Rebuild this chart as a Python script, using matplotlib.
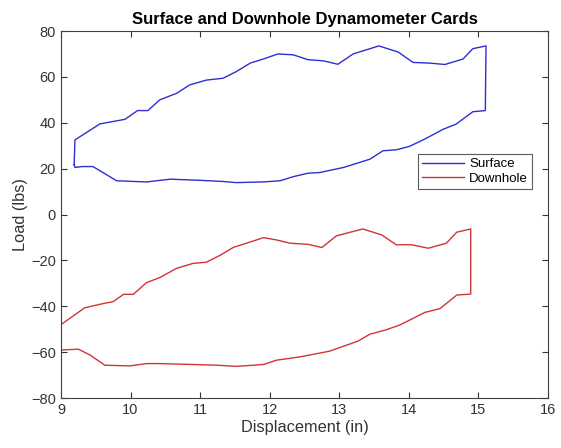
import matplotlib
matplotlib.use("Agg")
import matplotlib.pyplot as plt

# Surface card (closed loop, traced clockwise from lower-left)
surface_x = [9.19, 9.20, 9.56, 9.92, 10.10, 10.25, 10.42, 10.66, 10.85, 11.09, 11.33, 11.52,
             11.72, 11.91, 12.12, 12.34, 12.55, 12.77, 12.98, 13.20, 13.57, 13.85, 14.06,
             14.30, 14.52, 14.78, 14.92, 15.11, 15.10, 14.92, 14.68, 14.49, 14.25, 14.01,
             13.82, 13.63, 13.44, 13.06, 12.72, 12.55, 12.34, 12.15, 11.91, 11.52, 11.33,
             11.00, 10.57, 10.23, 9.80, 9.46, 9.30, 9.20, 9.19]
surface_y = [21.7, 32.5, 39.5, 41.5, 45.3, 45.3, 50.0, 52.8, 56.5, 58.6, 59.4, 62.3,
             66.0, 67.8, 70.0, 69.6, 67.5, 67.0, 65.5, 70.0, 73.5, 70.8, 66.3,
             66.0, 65.4, 67.8, 72.3, 73.5, 45.3, 44.8, 39.4, 37.1, 33.2, 29.7,
             28.2, 27.8, 24.1, 20.5, 18.3, 18.0, 16.5, 14.7, 14.2, 13.9, 14.4,
             14.9, 15.4, 14.2, 14.7, 20.9, 20.9, 20.5, 21.7]

# Downhole card (closed loop)
downhole_x = [9.00, 9.34, 9.61, 9.75, 9.90, 10.04, 10.23, 10.42, 10.66, 10.90, 11.09, 11.28,
              11.48, 11.67, 11.91, 12.10, 12.29, 12.55, 12.75, 12.96, 13.34, 13.61, 13.82,
              14.04, 14.28, 14.54, 14.69, 14.89, 14.89, 14.69, 14.45, 14.23, 13.87, 13.66,
              13.44, 13.27, 12.86, 12.43, 12.10, 11.91, 11.52, 11.24, 10.90, 10.42, 10.23,
              9.99, 9.63, 9.42, 9.25, 9.00, 9.00]
downhole_y = [-48.0, -40.7, -38.8, -38.0, -34.8, -34.8, -29.7, -27.5, -23.5, -21.3, -20.8, -17.9,
              -14.3, -12.5, -10.1, -11.1, -12.5, -13.0, -14.4, -9.3, -6.3, -8.9, -13.2,
              -13.2, -14.7, -12.5, -7.7, -6.3, -34.7, -35.1, -41.0, -42.7, -48.2, -50.4,
              -52.2, -55.2, -59.6, -62.1, -63.5, -65.4, -66.2, -65.7, -65.4, -65.0, -65.0,
              -66.0, -65.7, -61.3, -58.7, -59.1, -48.0]

plt.rcParams['font.family'] = ['Liberation Sans', 'DejaVu Sans']

fig = plt.figure(figsize=(5.61, 4.48), dpi=100)
ax = fig.add_axes([0.1087, 0.1116, 0.868, 0.8192])

ax.plot(surface_x, surface_y, color='#2f2fd0', lw=1.0, label='Surface')
ax.plot(downhole_x, downhole_y, color='#d03535', lw=1.0, label='Downhole')

ax.set_xlim(9, 16)
ax.set_ylim(-80, 80)
ax.set_xticks(range(9, 17))
ax.set_yticks(range(-80, 81, 20))
ax.tick_params(direction='in', length=4, labelsize=10.5, colors='#333333', top=True, right=True,
               labeltop=False, labelright=False)
for s in ax.spines.values():
    s.set_color('#404040')
    s.set_linewidth(0.8)

ax.set_title('Surface and Downhole Dynamometer Cards', fontsize=12, fontweight='bold', pad=5)
ax.set_xlabel('Displacement (in)', fontsize=11.8, color='#333333', labelpad=2)
ax.set_ylabel('Load (lbs)', fontsize=11.8, color='#333333', labelpad=2)

leg = ax.legend(loc='upper right', bbox_to_anchor=(0.967, 0.665), fontsize=9.5,
                frameon=True, fancybox=False, borderaxespad=0, handlelength=3.2,
                borderpad=0.3, labelspacing=0.2, handletextpad=0.4)
leg.get_frame().set_edgecolor('#333333')
leg.get_frame().set_linewidth(0.8)

fig.savefig('out.png', dpi=100)
